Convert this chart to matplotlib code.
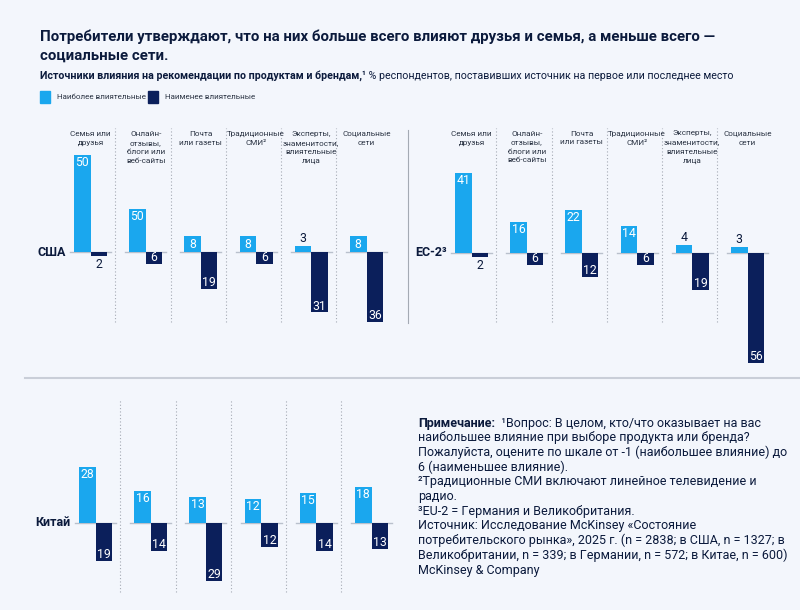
import matplotlib.pyplot as plt

W, H = 800, 610
BG = "#F3F6FC"
LIGHT = "#1AA7EE"
DARK = "#0B1F5B"
NAVY = "#0B1A3C"
BASE = "#B9C0CC"
SEP = "#A4AAB4"

plt.rcParams["font.family"] = ["Roboto", "DejaVu Sans"]

categories = ["Семья или\nдрузья", "Онлайн-\nотзывы,\nблоги или\nвеб-сайты",
              "Почта\nили газеты", "Традиционные\nСМИ²",
              "Эксперты,\nзнаменитости,\nвлиятельные\nлица", "Социальные\nсети"]

# bar heights as drawn; the second US label reads 50 in the source
us_most = [50, 22, 8, 8, 3, 8]
us_most_labels = ["50", "50", "8", "8", "3", "8"]
us_least = [2, 6, 19, 6, 31, 36]
eu_most = [41, 16, 22, 14, 4, 3]
eu_least = [2, 6, 12, 6, 19, 56]
cn_most = [28, 16, 13, 12, 15, 18]
cn_least = [19, 14, 29, 12, 14, 13]

title = ("Потребители утверждают, что на них больше всего влияют друзья и семья, а меньше всего —\n"
         "социальные сети.")
subtitle_bold = "Источники влияния на рекомендации по продуктам и брендам,¹"
subtitle_rest = " % респондентов, поставивших источник на первое или последнее место"
legend_labels = ["Наиболее влиятельные", "Наименее влиятельные"]

note_head = "Примечание:"
note_lines = [
    "  ¹Вопрос: В целом, кто/что оказывает на вас",
    "наибольшее влияние при выборе продукта или бренда?",
    "Пожалуйста, оцените по шкале от -1 (наибольшее влияние) до",
    "6 (наименьшее влияние).",
    "²Традиционные СМИ включают линейное телевидение и",
    "радио.",
    "³EU-2 = Германия и Великобритания.",
    "Источник: Исследование McKinsey «Состояние",
    "потребительского рынка», 2025 г. (n = 2838; в США, n = 1327; в",
    "Великобритании, n = 339; в Германии, n = 572; в Китае, n = 600)",
    "McKinsey & Company",
]

fig = plt.figure(figsize=(8, 6.1), dpi=100, facecolor=BG)


def fx(x):
    return x / W


def fy(y):
    return 1 - y / H


def px_axes(x0, x1, y0, y1, x_first, step, base, scale):
    ax = fig.add_axes([x0 / W, 1 - y1 / H, (x1 - x0) / W, (y1 - y0) / H])
    ax.set_xlim((x0 - x_first) / step, (x1 - x_first) / step)
    ax.set_ylim((base - y1) / scale, (base - y0) / scale)
    ax.axis("off")
    return ax


def panel(ax, most, least, most_labels, name, sep_top, sep_bottom, cat_y=None):
    n = len(most)
    xs = list(range(n))
    ax.bar([x - 0.15 for x in xs], most, width=0.3, color=LIGHT, zorder=2)
    ax.bar([x + 0.15 for x in xs], [-v for v in least], width=0.3, color=DARK, zorder=2)
    for x in xs:
        ax.plot([x - 0.37, x + 0.37], [0, 0], color=BASE, lw=1, zorder=1)
    for x in xs[:-1]:
        ax.plot([x + 0.45] * 2, [sep_bottom, sep_top], color=SEP, lw=0.8,
                ls=(0, (1, 2)), zorder=0)
    for x, v, lab in zip(xs, most, most_labels):
        if v < 5:
            ax.annotate(lab, (x - 0.15, v), xytext=(0, 5.5), textcoords="offset points",
                        ha="center", va="center", fontsize=8.8, color=NAVY)
        else:
            ax.annotate(lab, (x - 0.15, v), xytext=(0, -5.5), textcoords="offset points",
                        ha="center", va="center", fontsize=8.8, color="white")
    for x, v in zip(xs, least):
        if v < 5:
            ax.annotate(str(v), (x + 0.15, -v), xytext=(0, -6), textcoords="offset points",
                        ha="center", va="center", fontsize=8.8, color=NAVY)
        else:
            ax.annotate(str(v), (x + 0.15, -v), xytext=(0, 4.5), textcoords="offset points",
                        ha="center", va="center", fontsize=8.8, color="white")
    ax.text(-0.45, 0, name, ha="right", va="center", fontsize=9,
            fontweight="bold", color=NAVY)
    if cat_y is not None:
        for x, c in zip(xs, categories):
            ax.text(x, cat_y, c, ha="center", va="top", fontsize=5.9,
                    color="#2B3444", linespacing=1.6)


ax_us = px_axes(60, 395, 110, 335, 90.5, 55.2, 252, 1.95)
panel(ax_us, us_most, us_least, us_most_labels, "США", 63.6, -35.9, cat_y=62)

ax_eu = px_axes(440, 790, 110, 370, 471.5, 55.2, 253, 1.96)
panel(ax_eu, eu_most, eu_least, [str(v) for v in eu_most], "ЕС-2³", 64.0, -35.2, cat_y=62.5)

ax_cn = px_axes(60, 395, 390, 600, 95.5, 55.2, 523, 2.0)
panel(ax_cn, cn_most, cn_least, [str(v) for v in cn_most], "Китай", 61.5, -34.5)

# frame lines between panels
fig.add_artist(plt.Line2D([fx(408), fx(408)], [fy(130), fy(323)], color=SEP, lw=0.8))
fig.add_artist(plt.Line2D([fx(25), fx(800)], [fy(378), fy(378)], color="#C9CED8", lw=1.5))

# title, subtitle, legend
fig.text(fx(40), fy(29), title, ha="left", va="top", fontsize=10.8,
         fontweight="bold", color=NAVY, linespacing=1.5)
renderer = fig.canvas.get_renderer()
t = fig.text(fx(40), fy(76), subtitle_bold, ha="left", va="center", fontsize=7.7,
             fontweight="bold", color=NAVY)
bb = t.get_window_extent(renderer)
fig.text(bb.x1 / W, fy(76), subtitle_rest, ha="left", va="center", fontsize=7.7,
         color=NAVY)

for i, (lab, col) in enumerate(zip(legend_labels, [LIGHT, DARK])):
    x0 = 40 + i * 108
    fig.add_artist(plt.Rectangle((fx(x0), fy(103)), 10 / W, 12 / H, color=col))
    fig.text(fx(x0 + 17), fy(97), lab, ha="left", va="center", fontsize=5.8,
             color="#2B3444")

# notes
y = 423
h = fig.text(fx(418), fy(y), note_head, ha="left", va="center", fontsize=9,
             fontweight="bold", color=NAVY)
bb = h.get_window_extent(renderer)
fig.text(bb.x1 / W, fy(y), note_lines[0], ha="left", va="center", fontsize=9, color=NAVY)
for line in note_lines[1:]:
    y += 14.7
    fig.text(fx(418), fy(y), line, ha="left", va="center", fontsize=9, color=NAVY)

fig.savefig("out.png", dpi=100, facecolor=BG)
